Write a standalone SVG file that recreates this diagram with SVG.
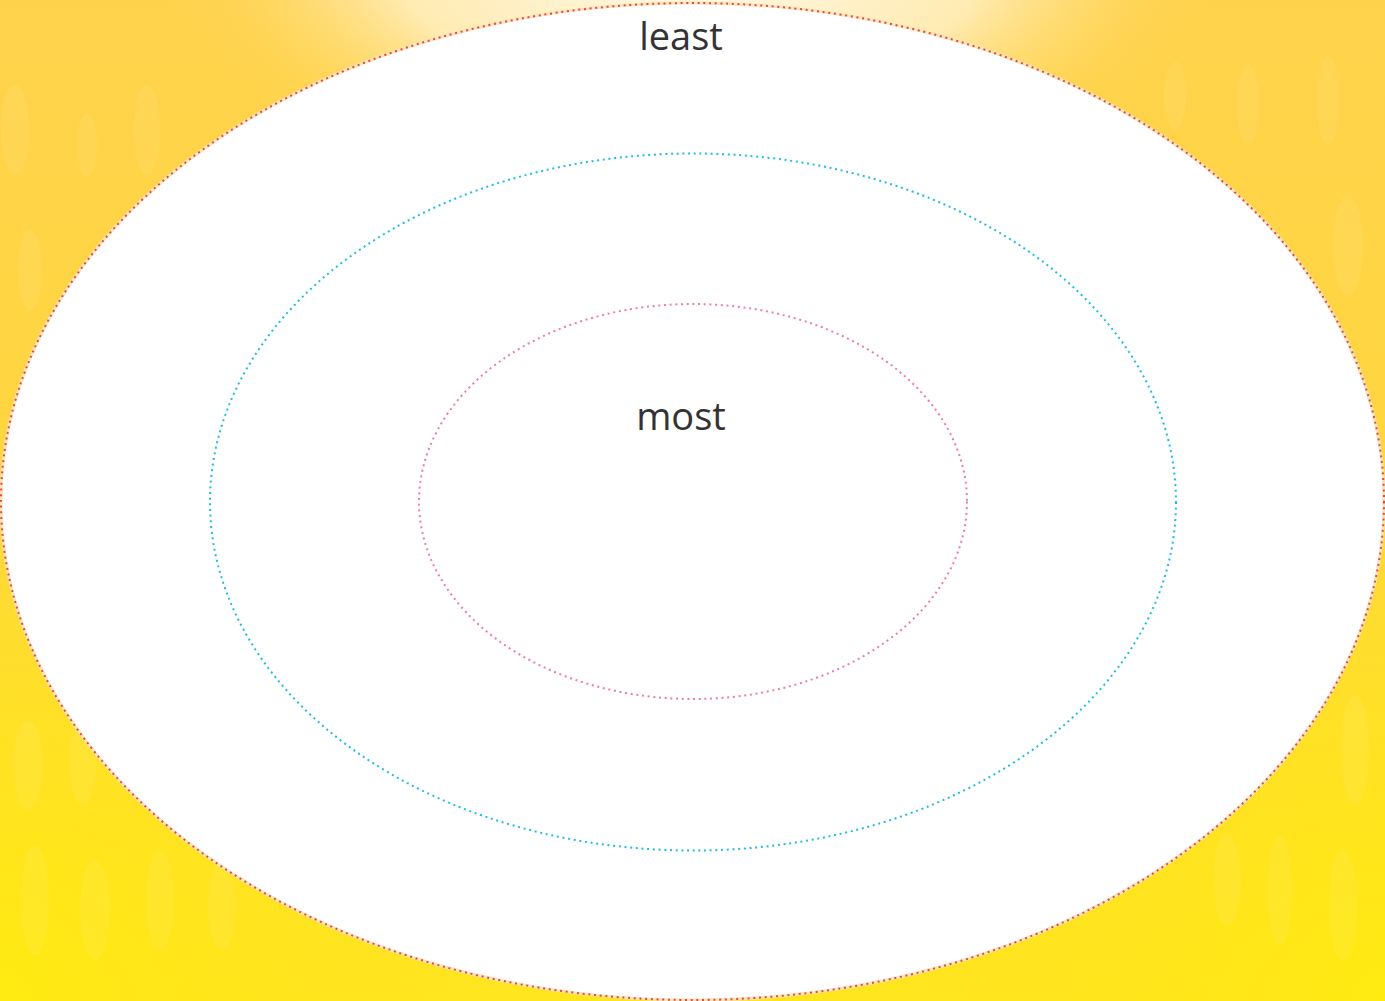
<svg xmlns="http://www.w3.org/2000/svg" width="1385" height="1001" viewBox="0 0 1385 1001">
  <defs>
    <linearGradient id="bg" x1="0" y1="0" x2="0" y2="1">
      <stop offset="0" stop-color="#FFD24C"/>
      <stop offset="0.5" stop-color="#FFD73E"/>
      <stop offset="1" stop-color="#FFE61E"/>
    </linearGradient>
    <radialGradient id="glow" cx="690" cy="-40" r="540" gradientUnits="userSpaceOnUse" gradientTransform="translate(690 -40) scale(1 0.45) translate(-690 40)">
      <stop offset="0" stop-color="#FFFBF0" stop-opacity="1"/>
      <stop offset="0.55" stop-color="#FFEFC4" stop-opacity="0.85"/>
      <stop offset="1" stop-color="#FFD24C" stop-opacity="0"/>
    </radialGradient>
    <radialGradient id="corner" cx="0" cy="1001" r="500" gradientUnits="userSpaceOnUse">
      <stop offset="0" stop-color="#FFEA10" stop-opacity="1"/>
      <stop offset="1" stop-color="#FFE020" stop-opacity="0"/>
    </radialGradient>
    <radialGradient id="corner2" cx="1385" cy="1001" r="500" gradientUnits="userSpaceOnUse">
      <stop offset="0" stop-color="#FFEA10" stop-opacity="1"/>
      <stop offset="1" stop-color="#FFE020" stop-opacity="0"/>
    </radialGradient>
  </defs>
  <style>
    .ring { fill: none; stroke-width: 2; stroke-dasharray: 2 3.7; }
    .streak { fill: #FFFFFF; opacity: 0.07; }
    .label { font-family: "Open Sans", "Noto Sans", "Liberation Sans", sans-serif; font-size: 38px; fill: #333333; text-anchor: middle; }
  </style>

  <g id="background">
    <rect x="0" y="0" width="1385" height="1001" fill="url(#bg)"/>
    <rect x="0" y="0" width="1385" height="1001" fill="url(#corner)"/>
    <rect x="0" y="0" width="1385" height="1001" fill="url(#corner2)"/>
    <rect x="0" y="0" width="1385" height="1001" fill="url(#glow)"/>
    <g class="streaks">
      <ellipse class="streak" cx="15" cy="130" rx="14" ry="45"/>
      <ellipse class="streak" cx="87" cy="145" rx="10" ry="32"/>
      <ellipse class="streak" cx="147" cy="130" rx="13" ry="45"/>
      <ellipse class="streak" cx="30" cy="270" rx="12" ry="40"/>
      <ellipse class="streak" cx="1175" cy="95" rx="11" ry="35"/>
      <ellipse class="streak" cx="1248" cy="105" rx="11" ry="40"/>
      <ellipse class="streak" cx="1328" cy="100" rx="11" ry="45"/>
      <ellipse class="streak" cx="1348" cy="245" rx="15" ry="50"/>
      <ellipse class="streak" cx="28" cy="765" rx="15" ry="45"/>
      <ellipse class="streak" cx="83" cy="760" rx="14" ry="45"/>
      <ellipse class="streak" cx="35" cy="900" rx="14" ry="55"/>
      <ellipse class="streak" cx="95" cy="910" rx="15" ry="50"/>
      <ellipse class="streak" cx="160" cy="900" rx="14" ry="50"/>
      <ellipse class="streak" cx="222" cy="905" rx="14" ry="45"/>
      <ellipse class="streak" cx="1355" cy="750" rx="14" ry="55"/>
      <ellipse class="streak" cx="1227" cy="880" rx="14" ry="45"/>
      <ellipse class="streak" cx="1280" cy="890" rx="12" ry="55"/>
      <ellipse class="streak" cx="1343" cy="905" rx="14" ry="55"/>
    </g>
  </g>

  <g id="outer-ring">
    <ellipse cx="692.5" cy="501.5" rx="691.5" ry="498.5" fill="#FFFFFF" stroke="#FCE3C8" stroke-width="3"/>
    <ellipse class="ring" cx="692.5" cy="501.5" rx="691.5" ry="498.5" stroke="#E2511C"/>
    <text class="label" x="681" y="50">least</text>
  </g>

  <g id="middle-ring">
    <ellipse class="ring" cx="693" cy="502" rx="483" ry="348.5" stroke="#1FBDE6"/>
  </g>

  <g id="inner-ring">
    <ellipse class="ring" cx="693" cy="501.5" rx="274" ry="197.5" stroke="#F17AAE"/>
    <text class="label" x="681" y="430">most</text>
  </g>

  <g id="connectors"/>
</svg>
